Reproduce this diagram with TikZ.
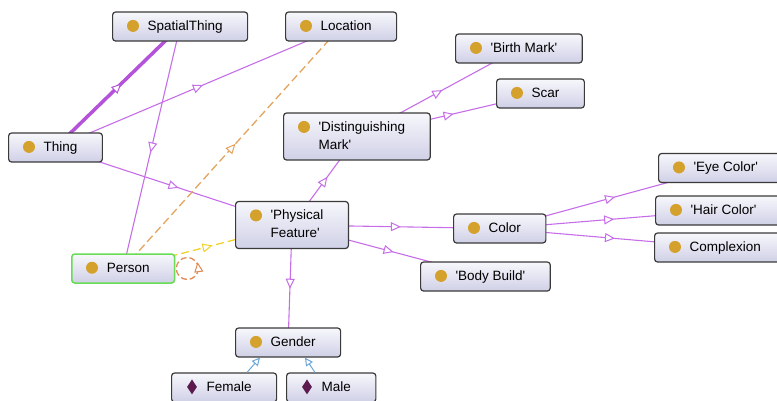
\documentclass[tikz,border=0pt]{standalone}
\usepackage{fontspec}
\setmainfont{Liberation Sans}
\usetikzlibrary{arrows.meta, backgrounds, decorations.markings, shapes.geometric}
\definecolor{ogborder}{HTML}{3A3A3A}
\definecolor{ogtop}{HTML}{F7F7FC}
\definecolor{ogbottom}{HTML}{D0D0E7}
\definecolor{ogdot}{HTML}{D4A22C}
\definecolor{ogindiv}{HTML}{5C1A4F}
\definecolor{ogpurple}{HTML}{C66EE8}
\definecolor{ogthick}{HTML}{B452DA}
\definecolor{ogorange}{HTML}{E3A460}
\definecolor{ogyellow}{HTML}{F2D12A}
\definecolor{ogloop}{HTML}{E08A55}
\definecolor{ogblue}{HTML}{6AA6D8}
\definecolor{oggreen}{HTML}{66DD55}
% text of a class box: room for the icon on the left
\newcommand{\ogtext}[1]{\hspace*{10pt}\begin{tabular}{@{}l@{}}#1\end{tabular}}

\begin{document}
\begin{tikzpicture}[
  x=1pt, y=-1pt,
  every node/.style={font=\fontsize{13.5}{18}\selectfont},
  cls/.style={draw=ogborder, line width=1.2pt, rounded corners=3pt,
              top color=ogtop, bottom color=ogbottom, anchor=west,
              inner xsep=25pt, inner ysep=5.5pt},
  focus/.style={cls, draw=oggreen, line width=1.5pt},
  midtri/.style={postaction={decorate, decoration={markings,
      mark=at position 0.5 with {\arrow[xshift=5pt]{Triangle[length=10pt, width=9pt, fill=white, line width=1pt]}}}}},
  sub/.style={draw=ogpurple, line width=1.1pt, midtri},
  thicksub/.style={draw=ogthick, line width=3.5pt, midtri},
  rangeedge/.style={draw=ogorange, line width=1.3pt, dash pattern=on 8pt off 4pt, midtri},
  propedge/.style={draw=ogyellow, line width=1.3pt, dash pattern=on 8pt off 4pt, midtri},
  loopedge/.style={draw=ogloop, line width=1.3pt, dash pattern=on 6pt off 3pt,
      postaction={decorate, decoration={markings,
      mark=at position 0.02 with {\arrow[xshift=5pt]{Triangle[length=10pt, width=9pt, fill=white, line width=1pt]}}}}},
  indiv/.style={draw=ogblue, line width=1pt, -{Triangle[open, length=8pt, width=8pt]}},
]
\useasboundingbox (0,0) rectangle (777,400);

% classes
\node[cls] (spatial)    at (112,26.5)  {\ogtext{SpatialThing}};
\node[cls] (location)   at (285,26.5)  {\ogtext{Location}};
\node[cls] (thing)      at (8,147.5)   {\ogtext{Thing}};
\node[cls] (birth)      at (455,48.5)  {\ogtext{\textquotesingle Birth Mark\textquotesingle}};
\node[cls] (scar)       at (496,93.5)  {\ogtext{Scar}};
\node[cls] (distmark)   at (283,136.5) {\ogtext{\textquotesingle Distinguishing\\Mark\textquotesingle}};
\node[cls] (eye)        at (658,168)   {\ogtext{\textquotesingle Eye Color\textquotesingle}};
\node[cls] (hair)       at (655,210.5) {\ogtext{\textquotesingle Hair Color\textquotesingle}};
\node[cls] (complexion) at (654,247.5) {\ogtext{Complexion}};
\node[cls] (color)      at (453,228.5) {\ogtext{Color}};
\node[cls] (physfeat)   at (235,225)   {\ogtext{\textquotesingle Physical\\Feature\textquotesingle}};
\node[focus] (person)   at (71,268.5)  {\ogtext{Person}};
\node[cls] (bodybuild)  at (420,276.5) {\ogtext{\textquotesingle Body Build\textquotesingle}};
\node[cls] (gender)     at (235,342.5) {\ogtext{Gender}};
% individuals
\node[cls] (female)     at (171,387.5) {\ogtext{Female}};
\node[cls] (male)       at (286,387.5) {\ogtext{Male}};

\foreach \n in {spatial, location, thing, birth, scar, distmark, eye, hair,
                complexion, color, physfeat, person, bodybuild, gender}
  \fill[ogdot] ([shift={(21,14.5)}]\n.north west) circle (6pt);
\foreach \n in {female, male}
  \node[diamond, fill=ogindiv, inner sep=0pt, minimum width=10pt, minimum height=15pt]
    (\n-mark) at ([shift={(21,14.5)}]\n.north west) {};

\begin{scope}[on background layer]
  \draw[thicksub] (thing.center) -- (spatial.center);
  \draw[sub] (thing.center) -- (location.center);
  \draw[sub] (spatial.center) -- (person.center);
  \draw[sub] (thing.center) -- (physfeat.center);
  \draw[sub] (physfeat.center) -- (distmark.center);
  \draw[sub] (distmark.center) -- (birth.center);
  \draw[sub] (distmark.center) -- (scar.center);
  \draw[sub] (physfeat.center) -- (color.center);
  \draw[sub] (physfeat.center) -- (bodybuild.center);
  \draw[sub] (physfeat.center) -- (gender.center);
  \draw[sub] (color.center) -- (eye.center);
  \draw[sub] (color.center) -- (hair.center);
  \draw[sub] (color.center) -- (complexion.center);
  \draw[rangeedge] (person.center) -- (location.center);
  \draw[propedge] (person.center) -- (physfeat.center);
\end{scope}

\draw[loopedge] ([xshift=12pt]person.east) circle (11pt);
\draw[indiv] ([xshift=76pt]female.north west) -- ([xshift=25pt]gender.south west);
\draw[indiv] ([xshift=29pt]male.north west) -- ([xshift=70pt]gender.south west);

\end{tikzpicture}
\end{document}
